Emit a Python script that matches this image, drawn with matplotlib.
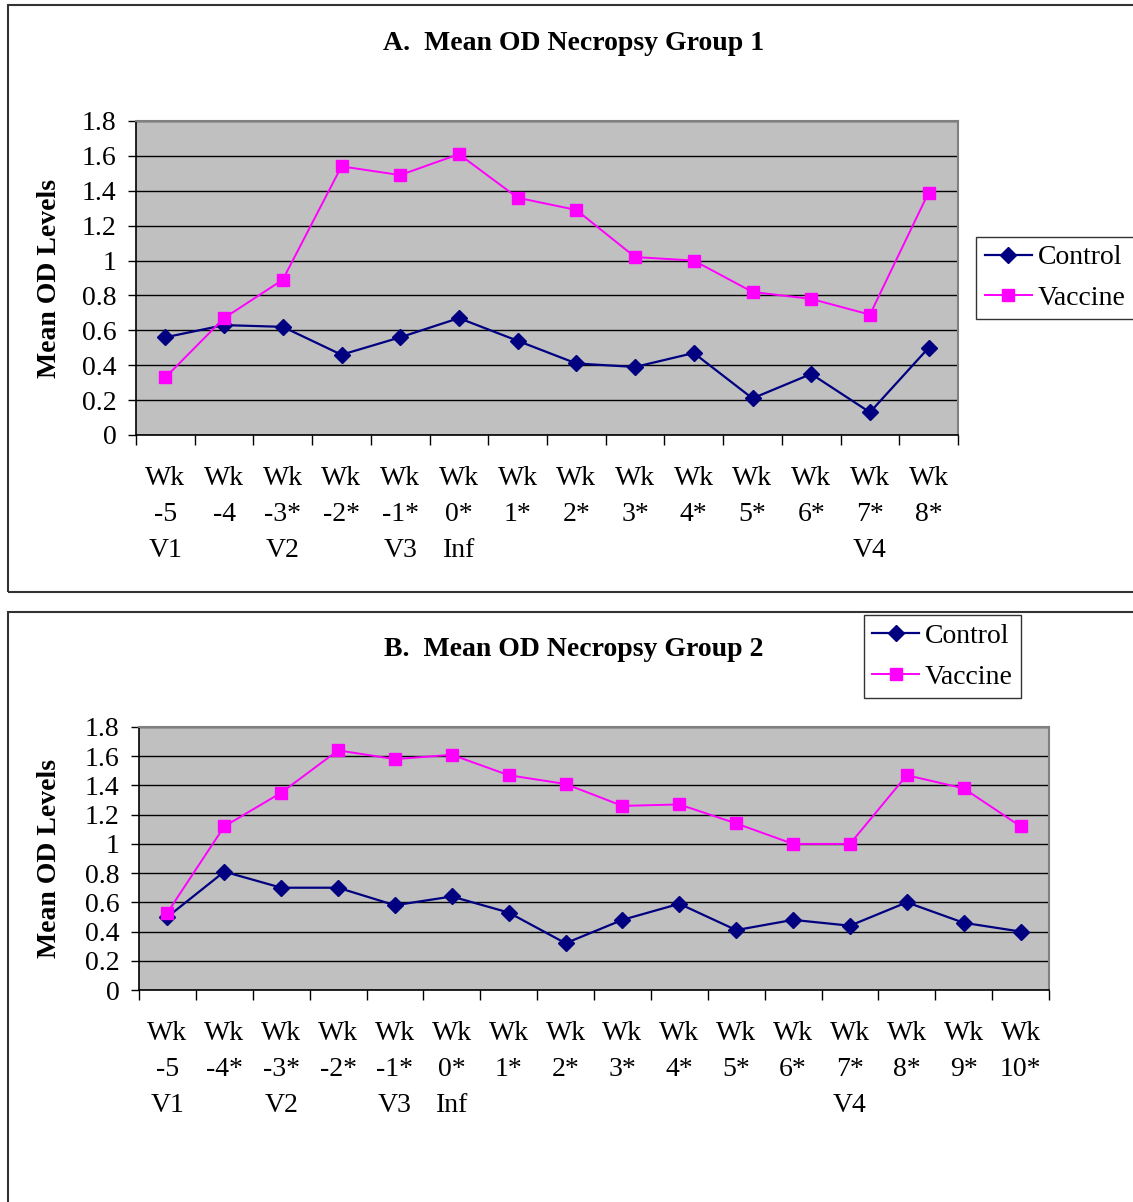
import matplotlib
matplotlib.use("Agg")
import matplotlib.pyplot as plt
from matplotlib.patches import Rectangle
import numpy as np

plt.rcParams['font.family'] = ['Liberation Serif', 'DejaVu Serif']

labels_a = ["Wk\n-5\nV1", "Wk\n-4\n", "Wk\n-3*\nV2", "Wk\n-2*\n", "Wk\n-1*\nV3", "Wk\n0*\nInf",
            "Wk\n1*\n", "Wk\n2*\n", "Wk\n3*\n", "Wk\n4*\n", "Wk\n5*\n", "Wk\n6*\n", "Wk\n7*\nV4", "Wk\n8*\n"]
control_a = [0.56, 0.63, 0.62, 0.46, 0.56, 0.67, 0.54, 0.41, 0.39, 0.47, 0.21, 0.35, 0.13, 0.50]
vaccine_a = [0.33, 0.67, 0.89, 1.54, 1.49, 1.61, 1.36, 1.29, 1.02, 1.00, 0.82, 0.78, 0.69, 1.39]

labels_b = ["Wk\n-5\nV1", "Wk\n-4*\n", "Wk\n-3*\nV2", "Wk\n-2*\n", "Wk\n-1*\nV3", "Wk\n0*\nInf",
            "Wk\n1*\n", "Wk\n2*\n", "Wk\n3*\n", "Wk\n4*\n", "Wk\n5*\n", "Wk\n6*\n", "Wk\n7*\nV4",
            "Wk\n8*\n", "Wk\n9*\n", "Wk\n10*\n"]
control_b = [0.50, 0.81, 0.70, 0.70, 0.58, 0.64, 0.53, 0.32, 0.48, 0.59, 0.41, 0.48, 0.44, 0.60, 0.46, 0.40]
vaccine_b = [0.53, 1.12, 1.35, 1.64, 1.58, 1.61, 1.47, 1.41, 1.26, 1.27, 1.14, 1.00, 1.00, 1.47, 1.38, 1.12]

titles = ["A.  Mean OD Necropsy Group 1", "B.  Mean OD Necropsy Group 2"]
yticks = [0, 0.2, 0.4, 0.6, 0.8, 1, 1.2, 1.4, 1.6, 1.8]
ytick_labels = ["0", "0.2", "0.4", "0.6", "0.8", "1", "1.2", "1.4", "1.6", "1.8"]

W, H = 1133, 1202
fig = plt.figure(figsize=(W / 100, H / 100), dpi=100)

def px_rect(x0, y0, x1, y1):
    return [x0 / W, 1 - y1 / H, (x1 - x0) / W, (y1 - y0) / H]

# panel frames
for (y0, y1) in [(5, 592), (612, 1215)]:
    fig.patches.append(Rectangle((8 / W, 1 - y1 / H), (1145 - 8) / W, (y1 - y0) / H,
                                 transform=fig.transFigure, fill=False, edgecolor='#333333',
                                 linewidth=1.5))

FS = 20

def draw(axrect, labels, ctrl, vacc, title, title_y, ylab_x, leg_rect):
    ax = fig.add_axes(px_rect(*axrect))
    n = len(labels)
    x = np.arange(n)
    ax.set_facecolor('#C0C0C0')
    ax.plot(x, ctrl, color='#000080', marker='D', markersize=8, linewidth=1.6, label='Control', zorder=3)
    ax.plot(x, vacc, color='#FF00FF', marker='s', markersize=8, linewidth=1.4, label='Vaccine', zorder=3)
    ax.set_xlim(-0.5, n - 0.5)
    ax.set_ylim(0, 1.8)
    ax.set_yticks(yticks)
    ax.set_yticklabels(ytick_labels, fontsize=FS)
    ax.yaxis.grid(True, color='black', linewidth=1.0)
    ax.set_axisbelow(True)
    ax.set_xticks(x)
    ax.set_xticklabels(labels, fontsize=FS, linespacing=1.6, va='top')
    ax.set_xticks(np.arange(n + 1) - 0.5, minor=True)
    ax.tick_params(axis='x', which='major', length=0, pad=22)
    ax.tick_params(axis='x', which='minor', length=7, width=1, direction='out')
    ax.tick_params(axis='y', length=6, width=1, direction='out', pad=8)
    for s in ['top', 'right']:
        ax.spines[s].set_color('#808080')
        ax.spines[s].set_linewidth(1.5)
    for s in ['left', 'bottom']:
        ax.spines[s].set_color('black')
        ax.spines[s].set_linewidth(1.2)
    fig.text(574 / W, 1 - title_y / H, title,
             fontsize=FS, fontweight='bold', ha='center', va='center')
    fig.text(ylab_x / W, 1 - (axrect[1] + axrect[3]) / 2 / H, "Mean OD Levels", rotation=90,
             fontsize=FS, fontweight='bold', ha='center', va='center')
    lax = fig.add_axes(px_rect(*leg_rect))
    lax.axis('off')
    h, l = ax.get_legend_handles_labels()
    leg = lax.legend(h, l, loc='center', fontsize=FS, frameon=True, fancybox=False,
                     edgecolor='black', handlelength=1.7, handletextpad=0.2,
                     borderpad=0.3, labelspacing=0.55, borderaxespad=0)
    leg.get_frame().set_linewidth(1.0)
    return ax

draw((136, 121, 958, 435), labels_a, control_a, vaccine_a, titles[0], 43, 50, (978, 236, 1132, 320))
draw((139, 727, 1049, 990), labels_b, control_b, vaccine_b, titles[1], 650, 50, (864, 615, 1021, 698))

fig.savefig("out.png", dpi=100)
